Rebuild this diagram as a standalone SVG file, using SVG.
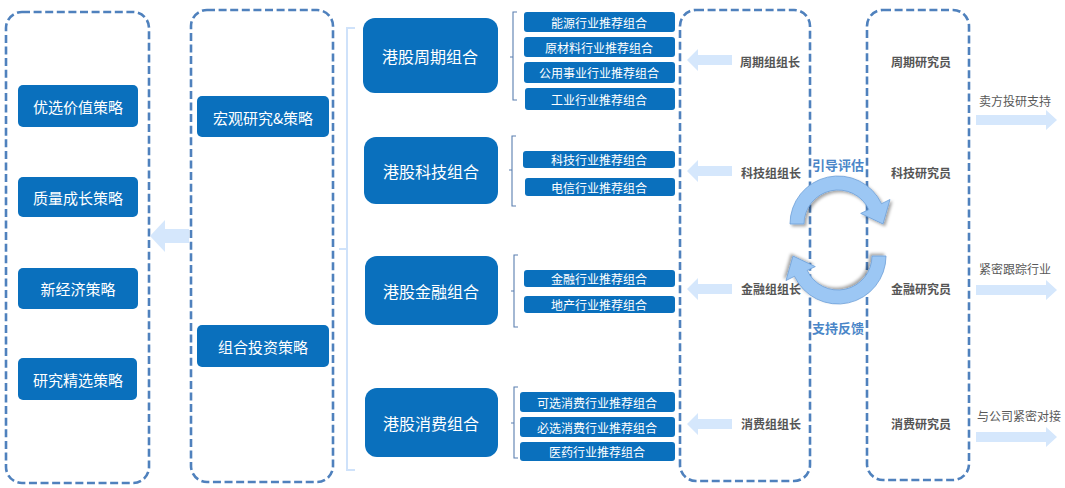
<svg xmlns="http://www.w3.org/2000/svg" width="1065" height="488" viewBox="0 0 1065 488">
<defs>
<style>
text{font-family:"Noto Sans CJK SC","Liberation Sans",sans-serif;text-anchor:middle;dominant-baseline:central}
.dash{fill:none;stroke:#4f81bd;stroke-width:2.6;stroke-dasharray:8 3.6}
.nd{fill:#0a70bd}
.wt{fill:#fff}
.t15{font-size:15px}
.t16{font-size:16px}
.t12{font-size:12px}
.lead{font-size:12px;font-weight:700;fill:#555}
.side{font-size:12px;fill:#595959}
.la{fill:#d5e7fc}
.br{fill:none;stroke:#5a7fb0;stroke-width:1.1}
.cv{fill:#9cc7f4;stroke:#6d9fd8;stroke-width:0.8;filter:url(#sh)}
.blu{font-size:13px;font-weight:700;fill:#4a86c8}
</style>
<filter id="sh" x="-20%" y="-20%" width="150%" height="150%">
<feDropShadow dx="2" dy="2" stdDeviation="1.6" flood-color="#000" flood-opacity="0.35"/>
</filter>
</defs>

<g id="frames">
<rect class="dash" x="6" y="12" width="143" height="471" rx="16"/>
<rect class="dash" x="191" y="10" width="142" height="472" rx="16"/>
<rect class="dash" x="680" y="10" width="130" height="471" rx="16"/>
<rect class="dash" x="867" y="10" width="102" height="470" rx="16"/>
</g>

<g id="connectors">
<polygon class="la" points="150,236 165,220 165,229 189,229 189,243 165,243 165,252"/>
<path d="M355,28 H347 V470 H355 M347,249 H339" fill="none" stroke="#cfe2fa" stroke-width="2"/>
<path class="br" d="M517,12 H513 V100 H517 M513,57 H510"/>
<path class="br" d="M516,136 H512 V206 H516 M512,170 H509"/>
<path class="br" d="M518,255 H514 V327 H518 M514,291 H511"/>
<path class="br" d="M518,387 H514 V458 H518 M514,423 H511"/>
<polygon class="la" points="687,60 698,49 698,55 732,55 732,65 698,65 698,71"/>
<polygon class="la" points="687,171 698,160 698,166 732,166 732,176 698,176 698,182"/>
<polygon class="la" points="687,289 698,278 698,284 732,284 732,294 698,294 698,300"/>
<polygon class="la" points="687,424 698,413 698,419 732,419 732,429 698,429 698,435"/>
<polygon class="la" points="1057,120 1046,110 1046,115 976,115 976,125 1046,125 1046,130"/>
<polygon class="la" points="1057,290 1046,280 1046,285 976,285 976,295 1046,295 1046,300"/>
<polygon class="la" points="1057,437 1046,427 1046,432 976,432 976,442 1046,442 1046,447"/>
<path class="cv" d="M790,224 A48,48 0 0 1 881.5,203.7 L890,199.5 L883,224 L860.7,213.4 L868.8,209.6 A34,34 0 0 0 804,224 Z"/>
<path class="cv" transform="rotate(180 838 240)" d="M790,224 A48,48 0 0 1 881.5,203.7 L890,199.5 L883,224 L860.7,213.4 L868.8,209.6 A34,34 0 0 0 804,224 Z"/>
<text class="blu" x="838" y="164">引导评估</text>
<text class="blu" x="838" y="327">支持反馈</text>
<text class="side" x="1015" y="100">卖方投研支持</text>
<text class="side" x="1015" y="268">紧密跟踪行业</text>
<text class="side" x="1019" y="415">与公司紧密对接</text>
</g>

<g id="n-youxuan"><rect class="nd" x="18" y="85" width="120" height="42" rx="5"/><text class="wt t15" x="78" y="106">优选价值策略</text></g>
<g id="n-zhiliang"><rect class="nd" x="18" y="177" width="120" height="40" rx="5"/><text class="wt t15" x="78" y="197">质量成长策略</text></g>
<g id="n-xinjingji"><rect class="nd" x="18" y="268" width="120" height="41" rx="5"/><text class="wt t15" x="78" y="288">新经济策略</text></g>
<g id="n-yanjiu"><rect class="nd" x="18" y="358" width="119" height="42" rx="5"/><text class="wt t15" x="78" y="379">研究精选策略</text></g>

<g id="n-hongguan"><rect class="nd" x="197" y="96" width="132" height="41" rx="5"/><text class="wt t15" x="263" y="117">宏观研究&amp;策略</text></g>
<g id="n-zuhe"><rect class="nd" x="197" y="325" width="132" height="42" rx="5"/><text class="wt t15" x="263" y="346">组合投资策略</text></g>

<g id="n-zhouqi"><rect class="nd" x="363" y="18" width="135" height="75" rx="12"/><text class="wt t16" x="430" y="56">港股周期组合</text></g>
<g id="n-keji"><rect class="nd" x="364" y="137" width="134" height="67" rx="12"/><text class="wt t16" x="431" y="171">港股科技组合</text></g>
<g id="n-jinrong"><rect class="nd" x="365" y="256" width="133" height="69" rx="12"/><text class="wt t16" x="431" y="291">港股金融组合</text></g>
<g id="n-xiaofei"><rect class="nd" x="365" y="388" width="133" height="69" rx="12"/><text class="wt t16" x="431" y="423">港股消费组合</text></g>

<g id="s-nengyuan"><rect class="nd" x="524" y="12" width="151" height="20" rx="3"/><text class="wt t12" x="599" y="22">能源行业推荐组合</text></g>
<g id="s-yuancailiao"><rect class="nd" x="524" y="37" width="151" height="20" rx="3"/><text class="wt t12" x="599" y="47">原材料行业推荐组合</text></g>
<g id="s-gongyong"><rect class="nd" x="524" y="62" width="151" height="21" rx="3"/><text class="wt t12" x="599" y="72.5">公用事业行业推荐组合</text></g>
<g id="s-gongye"><rect class="nd" x="525" y="88" width="150" height="22" rx="3"/><text class="wt t12" x="599" y="99">工业行业推荐组合</text></g>
<g id="s-keji"><rect class="nd" x="523" y="151" width="152" height="17" rx="3"/><text class="wt t12" x="599" y="159.5">科技行业推荐组合</text></g>
<g id="s-dianxin"><rect class="nd" x="525" y="178" width="150" height="18" rx="3"/><text class="wt t12" x="599" y="187">电信行业推荐组合</text></g>
<g id="s-jinrong"><rect class="nd" x="524" y="270" width="151" height="17" rx="3"/><text class="wt t12" x="599" y="278.5">金融行业推荐组合</text></g>
<g id="s-dichan"><rect class="nd" x="524" y="296" width="151" height="17" rx="3"/><text class="wt t12" x="599" y="304.5">地产行业推荐组合</text></g>
<g id="s-kexuan"><rect class="nd" x="520" y="392" width="155" height="20" rx="3"/><text class="wt t12" x="597" y="402">可选消费行业推荐组合</text></g>
<g id="s-bixuan"><rect class="nd" x="520" y="417" width="155" height="20" rx="3"/><text class="wt t12" x="597" y="427">必选消费行业推荐组合</text></g>
<g id="s-yiyao"><rect class="nd" x="520" y="442" width="155" height="19" rx="3"/><text class="wt t12" x="597" y="451.5">医药行业推荐组合</text></g>

<g id="l-zhouqi"><text class="lead" x="770" y="61">周期组组长</text></g>
<g id="l-keji"><text class="lead" x="771" y="172">科技组组长</text></g>
<g id="l-jinrong"><text class="lead" x="771" y="288">金融组组长</text></g>
<g id="l-xiaofei"><text class="lead" x="771" y="423">消费组组长</text></g>

<g id="r-zhouqi"><text class="lead" x="921" y="61">周期研究员</text></g>
<g id="r-keji"><text class="lead" x="921" y="172">科技研究员</text></g>
<g id="r-jinrong"><text class="lead" x="921" y="288">金融研究员</text></g>
<g id="r-xiaofei"><text class="lead" x="921" y="423">消费研究员</text></g>
</svg>
